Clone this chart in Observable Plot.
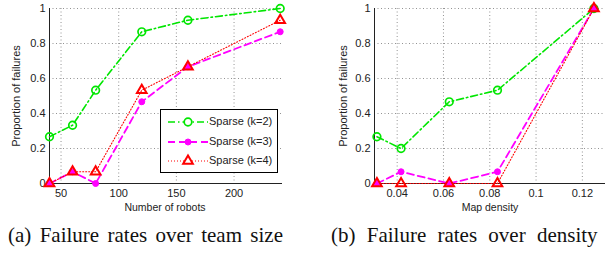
<!DOCTYPE html>
<html>
<head>
<meta charset="utf-8">
<script src="https://cdn.jsdelivr.net/npm/d3@7"></script>
<script src="https://cdn.jsdelivr.net/npm/@observablehq/plot@0.6"></script>
<style>
  html, body { margin: 0; padding: 0; background: #fff; }
  #wrap { position: relative; width: 616px; height: 253px; overflow: hidden; }
  .panel { position: absolute; top: 0; }
  .caption { position: absolute; top: 223px; font-family: "Liberation Serif", "Times New Roman", serif; font-size: 21px; line-height: 24px; color: #111; white-space: nowrap; }
  .legend { position: absolute; border: 1px solid #000; background: #fff; font-family: "Liberation Sans", Arial, sans-serif; font-size: 11px; color: #222; }
  .legend .row { position: absolute; left: 0; height: 20px; }
  .legend svg { position: absolute; left: 0; top: 0; }
  .legend span { position: absolute; left: 48px; top: 3px; }
</style>
</head>
<body>
<div id="wrap"></div>
<script>
// ---- data ----
const seriesNames = ["Sparse (k=2)", "Sparse (k=3)", "Sparse (k=4)"];
const robots = [40, 60, 80, 120, 160, 240];
const teamK2 = [0.267, 0.333, 0.533, 0.867, 0.933, 1.0];
const teamK3 = [0, 0.067, 0, 0.467, 0.667, 0.867];
const teamK4 = [0, 0.067, 0.067, 0.533, 0.667, 0.933];
const density = [0.03125, 0.04167, 0.0625, 0.08333, 0.125];
const densK2 = [0.267, 0.2, 0.467, 0.533, 1.0];
const densK3 = [0, 0.067, 0, 0.067, 1.0];
const densK4 = [0, 0, 0, 0, 1.0];
const xTicksA = [50, 100, 150, 200];
const xTicksB = [0.04, 0.06, 0.08, 0.1, 0.12];
const yTicks = [0, 0.2, 0.4, 0.6, 0.8, 1];
const captions = ["(a) Failure rates over team size", "(b) Failure rates over density"];

// ---- styles ----
const styles = [
  {color: "#00e600", dash: "7,3,1.5,3", width: 1.6, symbol: "circle", r: 3.8, fill: "none", sw: 1.7},
  {color: "#ff00ff", dash: "7,4", width: 1.8, symbol: "circle", r: 3, fill: "#ff00ff", sw: 1},
  {color: "#ff0000", dash: "1,2", width: 1.1, symbol: "triangle", r: 3.6, fill: "none", sw: 2}
];
const fmt = d => String(+d.toFixed(3));

function panel(xs, ysList, xDomain, xTicks, opts) {
  const marks = [
    Plot.gridX(xTicks, {stroke: "#777", strokeOpacity: 1, strokeDasharray: "1,2.5", strokeWidth: 0.8}),
    Plot.gridY(yTicks, {stroke: "#777", strokeOpacity: 1, strokeDasharray: "1,2.5", strokeWidth: 0.8}),
    Plot.ruleX([xDomain[0]], {stroke: "#222", strokeWidth: 1}),
    Plot.ruleY([0], {stroke: "#222", strokeWidth: 1}),
    Plot.axisX(xTicks, {tickSize: 0, tickPadding: 6, fontSize: 11, label: null, tickFormat: fmt}),
    Plot.axisY(yTicks, {tickSize: 0, tickPadding: 4, fontSize: 11, label: null, tickFormat: fmt})
  ];
  ysList.forEach((ys, i) => {
    const s = styles[i];
    const data = xs.map((x, j) => ({x, y: ys[j]}));
    marks.push(Plot.line(data, {x: "x", y: "y", stroke: s.color, strokeWidth: s.width, strokeDasharray: s.dash}));
  });
  ysList.forEach((ys, i) => {
    const s = styles[i];
    const data = xs.map((x, j) => ({x, y: ys[j]}));
    marks.push(Plot.dot(data, {x: "x", y: "y", symbol: s.symbol, r: s.r, stroke: s.color, fill: s.fill, strokeWidth: s.sw}));
  });
  return Plot.plot({
    width: 308, height: 222,
    marginLeft: opts.ml, marginRight: opts.mr, marginTop: 8, marginBottom: 39,
    style: {fontFamily: "Liberation Sans, Arial, sans-serif", fontSize: "11px", color: "#222", background: "transparent", overflow: "visible"},
    x: {domain: xDomain},
    y: {domain: [0, 1]},
    marks
  });
}

const wrap = document.getElementById("wrap");
function place(node, left) {
  const d = document.createElement("div");
  d.className = "panel"; d.style.left = left + "px";
  d.appendChild(node); wrap.appendChild(d); return d;
}
function addText(text, left, top, rotate, size) {
  const t = document.createElement("div");
  t.textContent = text;
  t.style.position = "absolute";
  t.style.fontFamily = "Liberation Sans, Arial, sans-serif";
  t.style.fontSize = size + "px";
  t.style.color = "#222";
  t.style.whiteSpace = "nowrap";
  t.style.left = left + "px"; t.style.top = top + "px";
  t.style.transform = "translate(-50%,-50%)" + (rotate ? " rotate(-90deg)" : "");
  wrap.appendChild(t);
}

const pa = panel(robots, [teamK2, teamK3, teamK4], [40, 242], xTicksA, {ml: 49, mr: 26});
const pb = panel(density, [densK2, densK3, densK4], [0.0302, 0.13], xTicksB, {ml: 66, mr: 11});
place(pa, 0);
place(pb, 308);
addText("Number of robots", 165, 207, false, 10.5);
addText("Map density", 490, 207, false, 10.5);
addText("Proportion of failures", 16, 96, true, 11);
addText("Proportion of failures", 343, 96, true, 11);

// captions, fitted to their spans in the reference
const capSpans = [[8, 283], [331, 612]];
captions.forEach((c, i) => {
  const d = document.createElement("div");
  d.className = "caption"; d.textContent = c;
  d.style.left = capSpans[i][0] + "px";
  wrap.appendChild(d);
  const w = d.getBoundingClientRect().width;
  const target = capSpans[i][1] - capSpans[i][0];
  const spaces = (c.match(/ /g) || []).length;
  const extra = Math.max(-2, Math.min(6, (target - w) / spaces));
  d.style.wordSpacing = extra + "px";
});

// legend
const leg = document.createElement("div");
leg.className = "legend";
leg.style.left = "160px"; leg.style.top = "109px"; leg.style.width = "116px"; leg.style.height = "62px";
seriesNames.forEach((name, i) => {
  const s = styles[i];
  const row = document.createElement("div");
  row.className = "row"; row.style.top = (2 + i * 19.5) + "px"; row.style.width = "116px";
  const svg = d3.create("svg").attr("width", 48).attr("height", 20);
  svg.append("line").attr("x1", 7).attr("x2", 47).attr("y1", 10).attr("y2", 10)
    .attr("stroke", s.color).attr("stroke-width", s.width).attr("stroke-dasharray", s.dash);
  const sym = d3.symbol(s.symbol === "circle" ? d3.symbolCircle : d3.symbolTriangle, Math.PI * s.r * s.r)();
  svg.append("path").attr("d", sym).attr("transform", "translate(27,10)")
    .attr("fill", s.fill === "none" ? "#fff" : s.fill).attr("stroke", s.color).attr("stroke-width", s.sw);
  row.appendChild(svg.node());
  const sp = document.createElement("span"); sp.textContent = name; row.appendChild(sp);
  leg.appendChild(row);
});
wrap.appendChild(leg);
</script>
</body>
</html>
